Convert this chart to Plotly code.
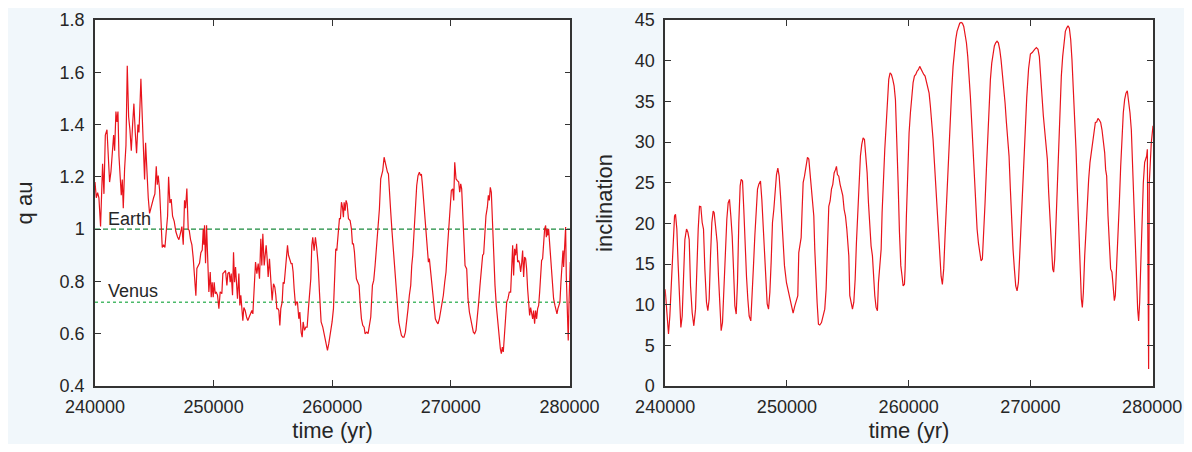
import plotly.graph_objects as go

# ---------------- data ----------------
T_Q = [240000,240110,240220,240330,240470,240640,240755,240870,241010,241120,241230,241345,241460,241570,241655,241765,
       241850,241935,242020,242130,242215,242300,242385,242495,242610,242720,242835,242945,243060,243170,243280,243395,
       243505,243620,243705,243790,243870,243985,244095,244180,244265,244380,244490,244600,244715,244825,244940,245050,
       245165,245250,245330,245445,245555,245670,245780,245895,246005,246120,246205,246315,246425,246540,246680,246820,
       246960,247075,247185,247325,247440,247550,247635,247745,247860,247945,248055,248170,248280,248395,248505,248590,
       248700,248815,248925,249040,249125,249180,249235,249320,249405,249515,249600,249715,249800,249880,249965,250050,
       250135,250220,250330,250445,250555,250695,250780,250895,251005,251120,251200,251315,251400,251485,251595,251680,
       251765,251850,251930,252015,252130,252215,252295,252380,252465,252550,252660,252775,252885,253000,253110,253225,
       253310,253420,253535,253645,253760,253870,253925,253980,254065,254150,254265,254345,254430,254515,254600,254710,
       254825,254935,255050,255160,255245,255330,255415,255500,255585,255665,255780,255865,255950,256060,256145,256230,
       256315,256425,256535,256620,256705,256790,256905,256985,257070,257185,257270,257380,257465,257550,257660,257775,
       257885,257995,258110,258195,258280,258360,258475,258585,258700,258810,258925,259065,259205,259345,259485,259600,
       259710,259850,259990,260105,260215,260300,260385,260500,260610,260695,260780,260865,260945,261005,261090,261170,
       261255,261370,261510,261620,261705,261790,261875,261960,262040,262155,262265,262350,262465,262575,262690,262770,
       262915,263025,263135,263250,263390,263500,263615,263755,263870,263980,264090,264175,264260,264375,264455,264540,
       264655,264740,264820,264935,265045,265160,265270,265385,265495,265610,265720,265835,265945,266055,266170,266280,
       266395,266505,266620,266705,266790,266900,267010,267125,267235,267350,267435,267520,267600,267715,267825,267940,
       268025,268110,268190,268275,268360,268475,268585,268695,268810,268920,269035,269145,269260,269370,269485,269595,
       269710,269820,269935,270045,270160,270245,270330,270440,270550,270665,270750,270835,270915,271000,271115,271200,
       271340,271450,271565,271675,271785,271900,272010,272125,272235,272350,272460,272575,272685,272770,272855,272965,
       273080,273165,273245,273330,273415,273500,273610,273725,273835,273950,274060,274175,274260,274345,274425,274510,
       274625,274710,274820,274930,275045,275130,275215,275295,275380,275465,275550,275635,275720,275805,275885,275970,
       276055,276140,276225,276310,276390,276475,276560,276645,276730,276815,276900,276980,277065,277150,277235,277320,
       277405,277490,277570,277655,277740,277825,277910,277995,278050,278105,278160,278245,278330,278415,278500,278585,
       278665,278780,278865,278950,279030,279115,279200,279285,279370,279455,279510,279565,279620,279680,279735,279790,
       279845,279900,279960,280015,280070]
Q = [1.18,1.12,1.14,1.12,1.01,1.25,1.135,1.36,1.38,1.28,1.18,1.22,1.31,1.36,1.30,1.45,
     1.41,1.45,1.28,1.18,1.13,1.19,1.08,1.23,1.32,1.625,1.43,1.38,1.30,1.40,1.48,1.37,
     1.29,1.40,1.37,1.47,1.575,1.43,1.31,1.19,1.33,1.205,1.12,1.06,1.08,1.11,1.12,1.135,
     1.24,1.17,1.205,1.15,1.05,0.93,0.94,0.93,0.99,1.05,1.20,1.10,1.115,1.05,1.03,0.99,
     0.97,0.96,0.98,1.01,0.94,1.11,1.08,1.155,1.00,0.995,0.96,0.94,0.89,0.81,0.745,0.85,
     0.86,0.87,0.91,0.92,1.00,0.94,1.015,0.87,1.015,0.835,0.76,0.836,0.74,0.797,0.74,0.797,
     0.753,0.76,0.747,0.696,0.76,0.753,0.83,0.836,0.842,0.785,0.83,0.836,0.797,0.83,0.747,0.912,
     0.797,0.855,0.772,0.734,0.83,0.708,0.747,0.696,0.65,0.70,0.689,0.664,0.65,0.664,0.676,0.689,
     0.676,0.772,0.874,0.83,0.868,0.81,0.90,0.963,0.861,0.982,0.861,0.918,0.938,0.887,0.817,0.887,
     0.823,0.727,0.791,0.778,0.747,0.696,0.696,0.689,0.632,0.696,0.721,0.797,0.791,0.848,0.887,0.938,
     0.90,0.88,0.868,0.868,0.836,0.772,0.708,0.721,0.721,0.657,0.683,0.606,0.587,0.645,0.613,0.625,
     0.625,0.696,0.747,0.81,0.938,0.969,0.918,0.969,0.925,0.868,0.759,0.645,0.625,0.594,0.562,0.536,
     0.562,0.60,0.645,0.696,0.85,0.925,0.918,0.976,1.04,1.04,1.103,1.084,1.046,1.103,1.071,1.11,
     1.097,1.04,1.033,1.001,0.944,0.944,0.912,0.855,0.81,0.797,0.785,0.721,0.657,0.632,0.625,0.60,
     0.606,0.60,0.632,0.664,0.785,0.804,0.861,0.938,1.014,1.078,1.192,1.205,1.224,1.275,1.256,1.231,
     1.218,1.211,1.129,1.065,0.989,0.925,0.861,0.785,0.708,0.645,0.619,0.594,0.587,0.587,0.606,0.645,
     0.696,0.747,0.785,0.861,0.90,0.989,1.09,1.167,1.205,1.218,1.205,1.211,1.173,1.103,1.04,0.963,
     0.90,0.874,0.887,0.848,0.797,0.734,0.683,0.657,0.645,0.638,0.657,0.683,0.721,0.747,0.797,0.836,
     0.925,1.014,1.065,1.148,1.154,1.11,1.256,1.192,1.186,1.18,1.141,1.173,1.154,1.052,0.95,0.861,
     0.848,0.734,0.683,0.65,0.632,0.606,0.60,0.613,0.657,0.721,0.785,0.836,0.90,0.906,0.976,1.052,
     1.084,1.129,1.11,1.16,1.141,1.027,0.90,0.785,0.708,0.645,0.594,0.543,0.524,0.549,0.53,0.594,
     0.67,0.721,0.734,0.759,0.759,0.848,0.938,0.823,0.925,0.90,0.944,0.874,0.88,0.868,0.836,0.868,
     0.918,0.817,0.893,0.887,0.848,0.772,0.696,0.67,0.70,0.683,0.657,0.689,0.638,0.689,0.657,0.696,
     0.708,0.759,0.823,0.88,0.887,0.938,1.001,1.014,0.969,1.001,0.976,1.001,0.938,0.874,0.823,0.772,
     0.734,0.708,0.683,0.676,0.696,0.708,0.721,0.797,0.874,0.918,0.855,0.925,1.001,1.008,0.823,0.708,
     0.60,0.574,0.708,0.785,0.874]

T_I = [240000,240110,240275,240385,240525,240660,240770,240850,240960,241070,241205,241290,241400,241510,241620,241755,
       241865,241975,242085,242220,242355,242495,242605,242715,242820,242930,243040,243150,243260,243395,243505,243615,
       243725,243835,243945,244025,244135,244275,244380,244490,244600,244710,244820,244955,245065,245175,245285,245395,
       245505,245615,245725,245835,245940,246050,246160,246245,246355,246460,246570,246680,246790,246900,247035,247145,
       247255,247365,247475,247585,247695,247830,247940,248050,248160,248270,248380,248490,248600,248705,248815,248925,
       249035,249145,249255,249365,249475,249585,249690,249800,249965,250100,250240,250375,250510,250650,250785,250895,
       250975,251060,251170,251250,251335,251445,251550,251690,251800,251910,252015,252125,252210,252290,252375,252480,
       252590,252700,252840,252975,253110,253220,253330,253440,253550,253660,253770,253880,253990,254070,254150,254260,
       254370,254480,254590,254700,254810,254920,255000,255085,255165,255275,255385,255495,255605,255710,255820,255930,
       256040,256150,256260,256370,256480,256590,256700,256805,256915,257025,257110,257220,257325,257435,257520,257630,
       257740,257820,257930,258040,258150,258260,258365,258475,258585,258695,258805,258915,259025,259135,259245,259355,
       259460,259545,259655,259710,259815,259925,260035,260145,260255,260365,260475,260585,260690,260800,260910,261020,
       261130,261240,261350,261460,261570,261680,261785,261895,262005,262115,262225,262335,262445,262555,262665,262770,
       262880,262990,263100,263210,263320,263430,263540,263650,263760,263865,263975,264085,264195,264305,264415,264525,
       264635,264745,264855,264960,265070,265180,265290,265400,265510,265620,265730,265840,265945,266055,266165,266275,
       266385,266495,266605,266715,266825,266935,267040,267150,267260,267370,267480,267590,267700,267810,267920,268030,
       268135,268245,268355,268465,268575,268685,268795,268905,269015,269120,269230,269340,269450,269560,269700,269850,
       270000,270150,270250,270350,270490,270625,270735,270845,270955,271065,271175,271285,271390,271500,271610,271720,
       271830,271910,271995,272105,272215,272325,272430,272540,272650,272760,272870,272980,273090,273200,273310,273415,
       273525,273635,273745,273855,273965,274075,274185,274265,274350,274460,274565,274675,274785,274895,275005,275115,
       275225,275335,275445,275550,275660,275770,275880,275990,276100,276180,276265,276375,276485,276590,276700,276810,
       276895,276975,277085,277195,277305,277415,277525,277630,277740,277850,277960,278070,278180,278290,278400,278510,
       278620,278725,278810,278890,278975,279055,279165,279275,279385,279465,279550,279605,279650,279710,279765,279850,
       279930,280070]
INC = [11.9,9.45,6.4,8.6,13.1,19.3,20.9,21.1,19.3,14.8,9.9,7.2,8.6,13.5,18.0,19.3,
       18.9,18.0,12.3,9.0,7.4,9.45,14.8,19.3,22.1,22.05,20.1,19.3,14.4,10.3,9.25,10.7,
       16.0,20.1,21.5,21.3,19.7,17.6,13.5,9.0,6.8,7.8,11.9,16.8,20.5,22.5,22.95,20.9,
       18.45,14.4,9.86,8.84,12.7,20.1,24.6,25.4,25.2,21.7,16.8,13.5,10.7,8.6,8.0,10.7,
       14.8,18.45,20.9,24.2,24.8,25.2,22.95,19.3,15.6,11.9,10.1,9.45,11.5,15.2,20.1,21.7,
       24.6,26.0,26.8,25.8,23.4,20.1,17.2,14.8,12.7,11.7,10.7,9.86,8.96,9.86,10.7,11.1,
       16.4,17.2,18.25,21.7,25.0,25.8,27.0,28.1,27.9,25.8,23.8,21.7,20.9,16.8,13.1,10.3,
       7.6,7.5,7.8,8.6,9.45,11.9,16.8,22.1,22.75,24.2,24.8,26.2,26.6,27.0,26.0,25.8,
       24.8,24.2,23.4,21.7,20.9,19.3,16.8,16.0,11.1,10.3,9.45,10.3,13.1,17.6,20.9,24.2,
       28.3,29.7,30.5,30.3,28.3,26.2,22.5,19.3,17.2,16.0,13.1,11.1,9.66,9.25,12.7,15.2,
       16.8,21.3,25.8,29.1,32.0,35.6,37.7,38.5,38.3,37.7,36.9,35.2,31.1,25.0,18.9,14.8,
       13.5,12.3,12.5,14.4,20.9,27.0,31.1,33.6,35.6,37.3,38.1,38.3,38.7,38.9,39.3,38.9,
       38.7,38.3,38.1,37.5,36.7,36.0,34.4,32.8,30.3,27.5,24.6,21.3,18.45,15.6,13.5,12.5,
       14.4,18.45,22.5,26.6,30.3,33.6,36.5,39.3,41.4,42.6,43.6,44.2,44.6,44.7,44.6,44.2,
       43.4,42.2,40.5,38.5,35.6,32.4,28.7,25.0,21.7,19.3,17.6,16.4,15.4,15.6,18.45,22.5,
       26.6,30.7,34.4,37.7,39.7,41.0,41.8,42.2,42.4,42.2,41.4,40.1,38.5,36.9,34.8,32.4,
       29.9,28.3,24.2,20.1,16.8,14.4,12.3,11.7,12.7,16.0,20.1,24.2,27.9,31.0,35.5,39.0,
       40.8,41.0,41.3,41.4,41.6,41.4,40.5,38.5,35.6,33.2,31.5,29.9,27.9,23.8,20.1,16.8,
       14.4,14.0,15.6,20.1,25.0,29.5,34.8,38.1,40.5,42.6,43.6,44.0,44.3,44.0,42.6,40.1,
       36.9,32.7,29.1,24.2,19.3,14.4,10.7,9.66,11.5,16.0,19.3,22.1,25.4,27.5,28.7,30.3,
       31.5,32.4,32.45,32.9,32.7,32.4,31.5,29.9,28.7,26.6,25.8,20.9,16.8,14.4,14.0,11.9,
       10.5,11.1,14.4,18.9,22.5,27.0,31.1,33.6,35.2,36.0,36.3,35.2,33.6,31.5,27.0,20.9,
       16.0,11.9,9.45,8.0,10.3,14.4,20.1,25.0,27.5,27.9,28.3,29.1,2.1,2.1,25.0,28.3,
       29.9,32.0]

X_TICKS = [240000, 250000, 260000, 270000, 280000]
X_TICK_TEXT = ["240000", "250000", "260000", "270000", "280000"]
Q_TICKS = [0.4, 0.6, 0.8, 1.0, 1.2, 1.4, 1.6, 1.8]
Q_TICK_TEXT = ["0.4", "0.6", "0.8", "1", "1.2", "1.4", "1.6", "1.8"]
I_TICKS = [0, 5, 10, 15, 20, 25, 30, 35, 40, 45]

EARTH_Q = 1.0
VENUS_Q = 0.72
PLANET_LABELS = ["Earth", "Venus"]

# ---------------- styling ----------------
RED = "#e8141c"
TXT = "#262626"
FONT = "Liberation Sans"
BG = "#f1f7fb"

fig = go.Figure()
fig.add_trace(go.Scatter(x=T_Q, y=Q, mode="lines", line=dict(color=RED, width=1.2),
                         xaxis="x", yaxis="y", showlegend=False, hoverinfo="skip"))
fig.add_trace(go.Scatter(x=T_I, y=INC, mode="lines", line=dict(color=RED, width=1.2),
                         xaxis="x2", yaxis="y2", showlegend=False, hoverinfo="skip"))

axis_common = dict(showline=True, linecolor="#333333", linewidth=1.5, mirror="allticks",
                   ticks="inside", ticklen=6, tickwidth=1.2, tickcolor="#333333",
                   showgrid=False, zeroline=False, automargin=False,
                   tickfont=dict(family=FONT, size=18, color=TXT))
title_font = dict(family=FONT, size=22, color=TXT)

XR = [240000, 280070]

# the page body adds an 8px offset; the figure is sized so it fits the window exactly
fig.update_layout(
    width=1176, height=436,
    margin=dict(l=86.7, r=30.5, t=11.7, b=58),
    paper_bgcolor=BG, plot_bgcolor="white",
    xaxis=dict(domain=[0, 0.4492], range=XR, tickvals=X_TICKS, ticktext=X_TICK_TEXT,
               title=dict(text="time (yr)", font=title_font, standoff=6),
               ticklabelstandoff=4, anchor="y", **axis_common),
    yaxis=dict(range=[0.4, 1.8], tickvals=Q_TICKS, ticktext=Q_TICK_TEXT,
               title=dict(text="q au", font=title_font, standoff=21),
               ticklabelstandoff=5, anchor="x", **axis_common),
    xaxis2=dict(domain=[0.5389, 1], range=XR, tickvals=X_TICKS, ticktext=X_TICK_TEXT,
                title=dict(text="time (yr)", font=title_font, standoff=6),
                ticklabelstandoff=4, anchor="y2", **axis_common),
    yaxis2=dict(range=[0, 45], tickvals=I_TICKS,
                title=dict(text="inclination", font=title_font, standoff=16),
                ticklabelstandoff=5, anchor="x2", **axis_common),
)

shapes = [
    dict(type="line", xref="x domain", yref="y", x0=0, x1=1, y0=EARTH_Q, y1=EARTH_Q,
         line=dict(color="#1a8a3e", width=1.2, dash="5px,3px"), layer="below"),
    dict(type="line", xref="x domain", yref="y", x0=0, x1=1, y0=VENUS_Q, y1=VENUS_Q,
         line=dict(color="#4cba6a", width=1.5, dash="dot"), layer="below"),
]
fig.update_layout(shapes=shapes)

fig.add_annotation(x=240950, y=EARTH_Q + 0.04, xref="x", yref="y", text=PLANET_LABELS[0],
                   showarrow=False, xanchor="left", yanchor="middle",
                   font=dict(family=FONT, size=18, color=TXT))
fig.add_annotation(x=240950, y=VENUS_Q + 0.042, xref="x", yref="y", text=PLANET_LABELS[1],
                   showarrow=False, xanchor="left", yanchor="middle",
                   font=dict(family=FONT, size=18, color=TXT))

fig.write_html("out.html")
